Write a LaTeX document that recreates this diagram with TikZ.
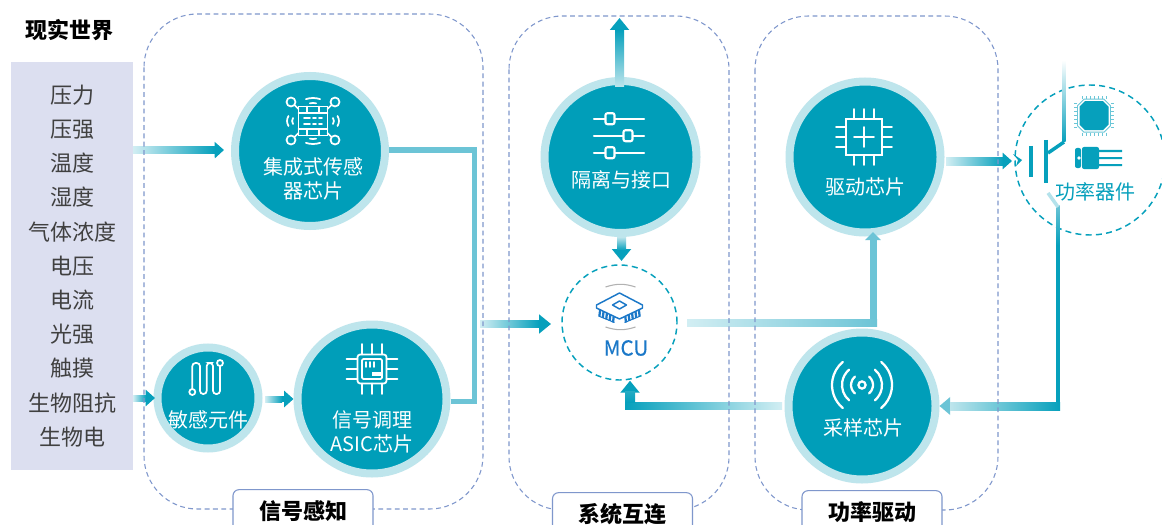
\documentclass[tikz,border=0pt]{standalone}
\usepackage{fontspec}
\setmainfont{Noto Sans CJK SC}
\newfontfamily\mcufont[FakeBold=0.3]{Noto Sans CJK SC}
\usetikzlibrary{positioning,arrows.meta,calc}
\definecolor{chipteal}{HTML}{009EB9}
\definecolor{chipring}{HTML}{BEE5EC}
\definecolor{flow}{HTML}{06A0BC}
\definecolor{flowmid}{HTML}{6CC4D6}
\definecolor{flowlight}{HTML}{D2EEF3}
\definecolor{panelgray}{HTML}{DCDFF0}
\definecolor{groupblue}{HTML}{7F97CC}
\definecolor{mcublue}{HTML}{1B78C8}
\tikzset{
  chip/.style = {circle, fill = chipteal, draw = chipring, line width = 6pt,
                 minimum size = #1*0.75pt, inner sep = 0pt},
  chiptext/.style = {text = white, align = center, inner sep = 0pt,
                     font = \fontsize{15}{18}\selectfont},
  ringdash/.style = {circle, draw = flow, line width = 1.1pt,
                     dash pattern = on 4.5pt off 3.2pt, minimum size = #1*0.75pt},
  group/.style = {draw = groupblue, line width = 0.8pt, rounded corners = 40pt,
                  dash pattern = on 3.6pt off 2.6pt},
  grouplab/.style = {rectangle, draw = groupblue, line width = 0.8pt, fill = white,
                     rounded corners = 4.5pt, minimum width = 105pt, minimum height = 32pt,
                     font = \fontsize{16.5}{18}\selectfont\bfseries},
  arrflow/.style = {-{Triangle[length=7pt,width=12pt]}, line width = 4.5pt, draw = flow},
  arrbig/.style = {-{Triangle[length=9pt,width=14pt]}, line width = 5.25pt, draw = flow},
  bus/.style = {line width = 3.75pt, draw = flowmid},
  lead/.style = {line width = 2.6pt, draw = flow},
  icon/.style = {draw = white, line width = 1.3pt, line cap = round},
}

\begin{document}
\begin{tikzpicture}[x=0.75pt,y=-0.75pt]
  \useasboundingbox (0,0) rectangle (1162,524);
  \fill[white] (0,0) rectangle (1162,524);
  % left column
  \node[font=\bfseries\fontsize{16.5}{18}\selectfont] (world) at (69,30) {现实世界};
  \node[rectangle, fill=panelgray, minimum width=91.5pt, minimum height=306pt, align=center,
        text=black!75, inner sep=0pt, font=\fontsize{16.5}{25.65}\selectfont] (panel) at (72,266)
    {压力\\压强\\温度\\湿度\\气体浓度\\电压\\电流\\光强\\触摸\\生物阻抗\\生物电};
  % chips
  \node[chip=150] (sensor) at (310,151) {};
  \node[chip=101] (element) at (208,398) {};
  \node[chip=149] (asic) at (372,399) {};
  \node[chip=152] (isolate) at (620.5,157) {};
  \node[chip=151] (driver) at (865,157) {};
  \node[chip=147] (sample) at (862,406) {};
  \node[ringdash=115] (mcu) at (619.5,322.5) {};
  \node[ringdash=150] (power) at (1090,160) {};
  \node[chiptext] (sensorlab) at (313,179) {集成式传感\\器芯片};
  \node[chiptext] (elementlab) at (208,420) {敏感元件};
  \node[chiptext] (asiclab) at (372,432) {信号调理\\ASIC芯片};
  \node[chiptext] (isolatelab) at (621,180) {隔离与接口};
  \node[chiptext] (driverlab) at (865,187) {驱动芯片};
  \node[chiptext] (samplelab) at (863,428) {采样芯片};
  \node[chiptext,text=mcublue,font=\fontsize{15.5}{18}\selectfont\mcufont] (mculab) at (626,348) {MCU};
  \node[chiptext,text=flow] (powerlab) at (1095,192) {功率器件};
  % points on the connectors
  \coordinate (bustop) at (474,150);
  \coordinate (busbot) at (474,401);
  \coordinate (joinout) at (480,324);
  \coordinate (upout) at (619.5,18);
  \coordinate (mcuturn) at (873,322.5);
  \coordinate (sampout) at (781,405.5);
  \coordinate (sampturn) at (630,405.5);
  \coordinate (powturn) at (1058,406);
  \coordinate (leadknee) at (1064,142);
  \coordinate (leadbot) at (1048,193);
  \coordinate (leadfold) at (1058,207);
  % connectors, each with its fade laid over it
  \draw[arrflow] (panel.east |- sensor) -- (224,150);
  \shade[left color=flowlight,right color=flow] (133,147) rectangle (215,153);
  \draw[arrflow] (panel.east |- element) -- (155,398);
  \shade[left color=flowlight,right color=flow] (133,395) rectangle (146,401);
  \draw[arrflow] (266,399) -- (asic.west);
  \shade[left color=flowlight,right color=flow] (265,396) rectangle (282,402);
  \draw[bus] (sensor.east |- bustop) -- (bustop) -- (busbot) -- (asic.east |- busbot);
  \draw[arrbig] (joinout) -- (551,324);
  \shade[left color=flowlight,right color=flow] (480,320.5) rectangle (539,327.5);
  \draw[arrbig,line width=6.75pt] (619.5,87) -- (upout);
  \shade[bottom color=chipring,top color=flow] (615,87) rectangle (624,30);
  \draw[arrbig,line width=6.75pt] (621.5,238) -- (621.5,261);
  \shade[top color=chipring,bottom color=flow] (617,237) rectangle (626,250);
  \draw[bus,line width=5.25pt,line join=miter] (687,322.5) -- (mcuturn) -- (873,245);
  \draw[-{Triangle[length=6pt,width=11.5pt]},line width=5.25pt,draw=flowmid] (873,250) -- (873,232);
  \shade[left color=flowlight,right color=flowmid] (687,319) rectangle (877,326);
  \draw[arrbig] (sampout) -- (sampturn) -- (mcu.south -| sampturn);
  \shade[left color=flow,right color=flowlight] (625,402) rectangle (782,409);
  \shade[bottom color=flow,top color=flow!70!flowmid] (625,402) rectangle (635,391);
  \draw[arrflow] (947,161) -- (1012,161);
  \shade[left color=flowlight,right color=flow] (946,157) rectangle (1003,165);
  \fill[flow] (1013,154) -- (1022,160) -- (1016,166) -- (1018,160) -- cycle;
  \draw[lead] (leadfold) -- (powturn);
  \draw[arrflow,line width=6.75pt,draw=flowmid,-{Triangle[length=8pt,width=13pt]}] (powturn) -- (sample.east);
  \shade[left color=chipring,right color=flow] (950,402) rectangle (1060,410);
  \shade[top color=white,bottom color=flow] (1062.3,60) rectangle (1065.7,142);
  \draw[lead] (1048,153) -- (leadknee);
  \shade[top color=flowmid,bottom color=flow] (1056.3,205) rectangle (1059.7,245);
  \draw[lead,draw=flow!30] (leadbot) -- (leadfold);
  \draw[line width=3pt,draw=flow] (1031,146) -- (1031,177);
  \draw[line width=3pt,draw=flow] (1046,140) -- (1046,183);
  % groups
  \draw[group] (144,14) rectangle (483,509);
  \draw[group] (509,16) rectangle (729,510);
  \draw[group] (755,16) rectangle (998,510);
  \node[grouplab] (sensing) at (303,511) {信号感知};
  \node[grouplab] (linking) at (622.5,514) {系统互连};
  \node[grouplab] (driving) at (872,512) {功率驱动};
  % sensor icon
  \begin{scope}[shift={(313,121)},icon]
    \draw (-14.5,-14.5) rectangle (14.5,14.5);
    \foreach \sx in {-1,1} \foreach \sy in {-1,1} {
      \draw (22*\sx,19*\sy) circle (4.5);
      \draw (18.5*\sx,16*\sy) -- (14.5*\sx,12*\sy);
    }
    \foreach \px in {-6,6} {
      \draw (\px,-14.5) -- (\px,-8);
      \draw (\px,14.5) -- (\px,8);
    }
    \foreach \py in {-3,3} \draw (-9,\py) -- (-3,\py) (0,\py) -- (3,\py) (6,\py) -- (9,\py);
    \draw (-14.5,-8) -- (14.5,-8) (-14.5,8) -- (14.5,8);
    \draw (72:23) arc (72:108:23) (80:18) arc (80:100:18);
    \draw (-72:23) arc (-72:-108:23) (-80:18) arc (-80:-100:18);
    \draw (-20,-3) to[bend right=30] (-20,3);
    \draw (-24.5,-5) to[bend right=30] (-24.5,5);
    \draw (20,-3) to[bend left=30] (20,3);
    \draw (24.5,-5) to[bend left=30] (24.5,5);
  \end{scope}
  % serpentine
  \begin{scope}[icon]
    \draw[rounded corners=2.4pt] (192.3,389) -- (192.3,363) -- (200,363) -- (200,394) -- (206.7,394)
      -- (206.7,363) -- (213,363) -- (213,394) -- (220,394) -- (220,366);
    \draw[fill=chipteal] (192.3,392) circle (3);
    \draw[fill=chipteal] (220,363) circle (3);
  \end{scope}
  % asic icon
  \begin{scope}[shift={(372,369)},icon]
    \draw[rounded corners=2pt] (-14.5,-14.5) rectangle (14.5,14.5);
    \draw[rounded corners=1pt] (-10,-10) rectangle (10,10);
    \foreach \pp in {-10,0,10} {
      \draw (\pp,-14.5) -- (\pp,-25);
      \draw (\pp,14.5) -- (\pp,25);
      \draw (-14.5,\pp) -- (-25.5,\pp);
      \draw (14.5,\pp) -- (25.5,\pp);
    }
    \foreach \pp in {-6,-2,2} \draw (\pp,-7) -- (\pp,-2);
    \fill[white] (0,3) rectangle (9,7);
  \end{scope}
  % sliders icon
  \begin{scope}[shift={(619,135.7)},icon,line width=1.6pt]
    \foreach \py/\px in {-17/-9, 0/9, 17/-9} {
      \draw (-25,\py) -- (25,\py);
      \draw[fill=chipteal,rounded corners=1.5pt] (\px-4.5,\py-5.5) rectangle (\px+4.5,\py+5.5);
    }
  \end{scope}
  % driver icon
  \begin{scope}[shift={(864,137)},icon]
    \draw (-18,-18) rectangle (18,18);
    \draw (-10,0) -- (10,0) (0,-10) -- (0,10);
    \foreach \pp in {-10,0,10} {
      \draw (\pp,-18) -- (\pp,-28);
      \draw (\pp,18) -- (\pp,28);
      \draw (-18,\pp) -- (-28,\pp);
      \draw (18,\pp) -- (28,\pp);
    }
  \end{scope}
  % signal icon
  \begin{scope}[shift={(862,385)},icon,line width=1.7pt]
    \draw (0,0) circle (3.6);
    \foreach \rr in {11,20,30} {
      \draw (-50:\rr) arc (-50:50:\rr);
      \draw (130:\rr) arc (130:230:\rr);
    }
  \end{scope}
  % mcu icon
  \begin{scope}[shift={(619.5,305)},draw=mcublue,line width=1.1pt,line join=round]
    \foreach \sx in {-1,1} {
      \foreach \tt in {0,1,2,3,4} {
        \draw[line width=1.7pt] (\sx*5.5+\sx*\tt*3.4,9+\tt*-1.6) -- ++(\sx*1,8.5);
      }
      \draw[line width=0.8pt] (\sx*5,17.5) -- (\sx*21,11);
    }
    \draw[fill=white] (0,-12) -- (23,0) -- (23,3) -- (0,14) -- (-23,3) -- (-23,0) -- cycle;
    \draw (0,-4) -- (7,0) -- (0,4) -- (-7,0) -- cycle;
    \draw[black!30,line width=0.8pt] (-14,-18) to[bend left=18] (16,-18);
    \draw[black!30,line width=0.8pt] (-14,22) to[bend right=18] (16,22);
  \end{scope}
  % power icons
  \begin{scope}[shift={(1094,115.7)}]
    \fill[flow] (-9,-14.5) -- (9,-14.5) -- (14.5,-9) -- (14.5,9) -- (9,14.5) -- (-9,14.5) -- (-14.5,9) -- (-14.5,-9) -- cycle;
    \draw[flow!60,line width=0.7pt] (-10,-16.5) -- (10,-16.5) -- (16.5,-10) -- (16.5,10) -- (10,16.5) -- (-10,16.5) -- (-16.5,10) -- (-16.5,-10) -- cycle;
    \foreach \pp in {-12,-8,-4,0,4,8,12} {
      \draw[flow!60,line width=0.7pt] (\pp,-17) -- (\pp,-20) (\pp,17) -- (\pp,20) (-17,\pp) -- (-20,\pp) (17,\pp) -- (20,\pp);
    }
  \end{scope}
  \begin{scope}[shift={(1075,147)}]
    \fill[flow,rounded corners=1.5pt] (7,0) -- (24,0) -- (24,22) -- (7,22) -- cycle;
    \fill[flow,rounded corners=1.5pt] (0,1) -- (6,1) -- (6,21) -- (0,21) -- cycle;
    \fill[white] (4,11) circle (1.9);
    \fill[flow] (24,3) rectangle (47,5.2) (24,10) rectangle (47,12.2) (24,17) rectangle (47,19.2);
  \end{scope}
\end{tikzpicture}
\end{document}
